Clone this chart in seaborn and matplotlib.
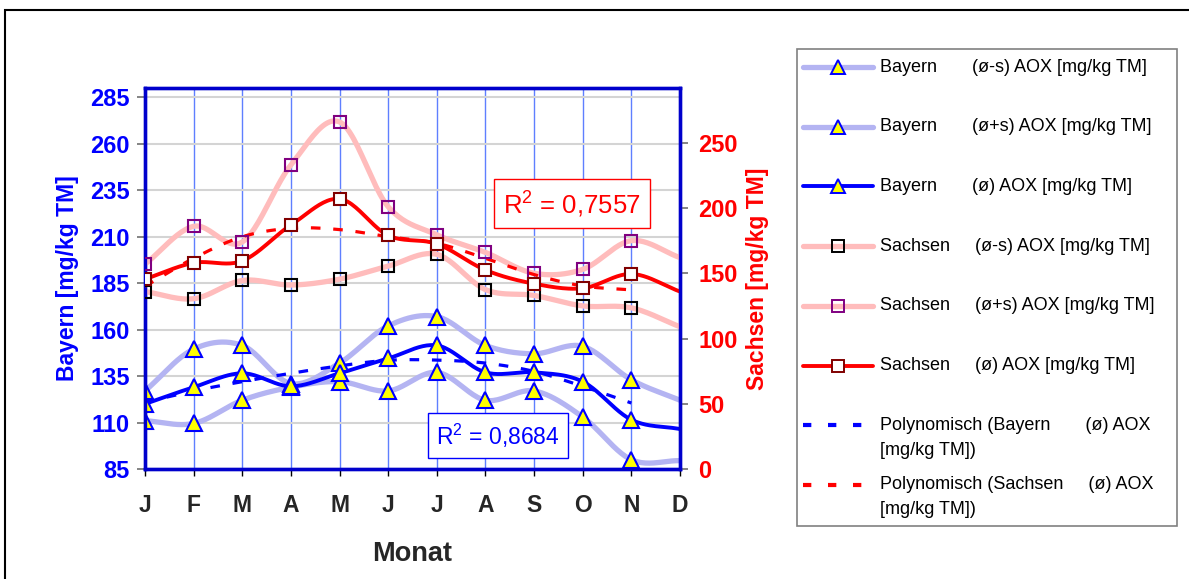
import numpy as np
import pandas as pd
import matplotlib
matplotlib.use("Agg")
import matplotlib.pyplot as plt
from matplotlib.lines import Line2D
from matplotlib.patches import Rectangle
import seaborn as sns

months = ["J", "F", "M", "A", "M", "J", "J", "A", "S", "O", "N", "D"]

bayern_mean = [120, 129, 136.5, 129.5, 136.5, 144.5, 151.5, 137, 137, 132, 111.5, 106.5]
bayern_upper = [127, 149.5, 151.5, 131, 142, 162, 167, 151.5, 147, 151, 133, 122]
bayern_lower = [111, 109.5, 122, 129, 132, 127, 137, 122, 127, 113, 90, 89.5]
bayern_trend = [121, 127, 132, 136.5, 140.5, 143.5, 143.6, 142, 137.5, 129.5, 120.5]

sachsen_mean = [145.5, 158, 159.5, 187, 207, 179, 172.5, 152.5, 142, 138.5, 149.5, 136]
sachsen_upper = [157, 186, 174, 233, 266, 201, 179.5, 166, 150, 153, 175, 162]
sachsen_lower = [136, 130.5, 144.5, 141, 145.5, 155.5, 164.5, 137.5, 133, 125, 123.5, 109]
sachsen_trend = [140, 161.5, 178, 184.5, 183.5, 178, 173, 161.5, 149, 140.3, 137.3]

r2_bayern = "0,8684"
r2_sachsen = "0,7557"

labels = [
    "Bayern       (ø-s) AOX [mg/kg TM]",
    "Bayern       (ø+s) AOX [mg/kg TM]",
    "Bayern       (ø) AOX [mg/kg TM]",
    "Sachsen     (ø-s) AOX [mg/kg TM]",
    "Sachsen     (ø+s) AOX [mg/kg TM]",
    "Sachsen     (ø) AOX [mg/kg TM]",
    "Polynomisch (Bayern       (ø) AOX\n[mg/kg TM])",
    "Polynomisch (Sachsen     (ø) AOX\n[mg/kg TM])",
]

LIGHT_BLUE = "#b4b4f2"
LIGHT_RED = "#ffbcbc"
BLUE = "#0000ff"
RED = "#ff0000"


def smooth(y, n=24):
    # catmull-rom curve through the points, like excel's smoothed lines
    y = np.asarray(y, dtype=float)
    x = np.arange(len(y), dtype=float)
    px = np.concatenate([[2 * x[0] - x[1]], x, [2 * x[-1] - x[-2]]])
    py = np.concatenate([[2 * y[0] - y[1]], y, [2 * y[-1] - y[-2]]])
    xs, ys = [], []
    t = np.linspace(0, 1, n, endpoint=False)
    for i in range(1, len(px) - 2):
        for p, out in ((px, xs), (py, ys)):
            p0, p1, p2, p3 = p[i - 1], p[i], p[i + 1], p[i + 2]
            out.append(0.5 * (2 * p1 + (-p0 + p2) * t
                              + (2 * p0 - 5 * p1 + 4 * p2 - p3) * t ** 2
                              + (-p0 + 3 * p1 - 3 * p2 + p3) * t ** 3))
    xs.append([x[-1]])
    ys.append([y[-1]])
    return pd.DataFrame({"x": np.concatenate(xs), "y": np.concatenate(ys)})


sns.set_theme(style="white")
plt.rcParams["font.family"] = ["Liberation Sans", "DejaVu Sans"]
plt.rcParams["mathtext.fontset"] = "custom"
plt.rcParams["mathtext.rm"] = "Liberation Sans"

W, H = 1189, 579
fig = plt.figure(figsize=(W / 100, H / 100), dpi=100)
ax = fig.add_axes([145 / W, 1 - 469 / H, 535 / W, 381 / H])
ax2 = ax.twinx()

x = np.arange(len(months))

series = [
    (ax, bayern_lower, LIGHT_BLUE, 3.8, dict(marker="^", mfc="#ffff00", mec="#0000ff")),
    (ax, bayern_upper, LIGHT_BLUE, 3.8, dict(marker="^", mfc="#ffff00", mec="#0000ff")),
    (ax, bayern_mean, BLUE, 2.8, dict(marker="^", mfc="#ffff00", mec="#0000ff")),
    (ax2, sachsen_lower, LIGHT_RED, 3.8, dict(marker="s", mfc="none", mec="#000000")),
    (ax2, sachsen_upper, LIGHT_RED, 3.8, dict(marker="s", mfc="none", mec="#800080")),
    (ax2, sachsen_mean, RED, 2.8, dict(marker="s", mfc="#ffffff", mec="#800000")),
]

handles = []
for a, vals, col, lw, mk in series:
    sm = smooth(vals)
    sns.lineplot(data=sm, x="x", y="y", ax=a, color=col, linewidth=lw,
                 estimator=None, sort=False, legend=False)
    ms = 11 if mk["marker"] == "^" else 8.8
    a.plot(x[:-1], vals[:-1], linestyle="none", markersize=ms, markeredgewidth=1.5, zorder=5, **mk)
    handles.append(Line2D([], [], color=col, linewidth=lw, markersize=ms * 0.9,
                          markeredgewidth=1.4, **mk))

for a, vals, col in ((ax, bayern_trend, BLUE), (ax2, sachsen_trend, RED)):
    sm = smooth(vals)
    sns.lineplot(data=sm, x="x", y="y", ax=a, color=col, linewidth=2.3,
                 estimator=None, sort=False, legend=False, zorder=4)
    a.lines[-1].set_dashes((3, 4))
    handles.append(Line2D([], [], color=col, linewidth=3, dashes=(2, 4)))

# axes styling
ax.set_xlim(0, 11)
ax.set_ylim(85, 290)
ax.set_yticks(np.arange(85, 286, 25))
ax2.set_ylim(0, 292)
ax2.set_yticks(np.arange(0, 251, 50))
ax.set_xticks(x)
ax.set_xticklabels(months)

ax.grid(axis="y", color="#d4d4d4", linewidth=1.5)
ax.grid(axis="x", color="#5f7fff", linewidth=1)
ax.set_axisbelow(True)
ax2.grid(False)

for a in (ax, ax2):
    for sp in a.spines.values():
        sp.set_color("#0000cc")
        sp.set_linewidth(2.4)

ax.tick_params(axis="y", left=True, length=6, width=1.2, color="#707070", pad=5,
               labelsize=17, labelcolor=BLUE)
ax.tick_params(axis="x", bottom=True, length=5, width=1, color="#000000", pad=13,
               labelsize=16.5)
ax2.tick_params(axis="y", right=True, length=6, width=1.2, color="#707070", pad=7,
                labelsize=17, labelcolor=RED)
for lab in ax.get_xticklabels() + ax.get_yticklabels() + ax2.get_yticklabels():
    lab.set_fontweight("bold")

ax.set_xlabel("Monat", fontsize=19.5, fontweight="bold", labelpad=17)
ax.set_ylabel("Bayern [mg/kg TM]", fontsize=16.5, fontweight="bold", color=BLUE, labelpad=8)
ax2.set_ylabel("Sachsen [mg/kg TM]", fontsize=16.5, fontweight="bold", color=RED, labelpad=6)

ax2.text(0.798, 0.696, "R$^2$ = " + r2_sachsen, transform=ax.transAxes, color=RED,
         fontsize=18.5, ha="center", va="center",
         bbox=dict(boxstyle="square,pad=0.35", fc="white", ec=RED, lw=1))
ax2.text(0.66, 0.088, "R$^2$ = " + r2_bayern, transform=ax.transAxes, color=BLUE,
         fontsize=16.5, ha="center", va="center",
         bbox=dict(boxstyle="square,pad=0.35", fc="white", ec=BLUE, lw=1))

# legend drawn by hand, excel style spacing
fig.patches.append(Rectangle((797 / W, 1 - 526 / H), 380 / W, 477 / H, transform=fig.transFigure,
                             fill=False, ec="#808080", lw=1.2))
for i, (h, lab) in enumerate(zip(handles, labels)):
    yc = 67 + i * 59.7
    ln = Line2D([803 / W, 873 / W], [1 - yc / H] * 2, transform=fig.transFigure,
                color=h.get_color(), linewidth=h.get_linewidth())
    if i >= 6:
        ln.set_dashes((2, 4))
    fig.add_artist(ln)
    if h.get_marker() not in (None, "None", ""):
        fig.add_artist(Line2D([838 / W], [1 - yc / H], transform=fig.transFigure,
                              linestyle="none", marker=h.get_marker(), markersize=h.get_markersize(),
                              mfc=h.get_markerfacecolor(), mec=h.get_markeredgecolor(),
                              markeredgewidth=1.4))
    for j, part in enumerate(lab.split("\n")):
        fig.text(880 / W, 1 - (yc + j * 25) / H, part, fontsize=13, color="black",
                 ha="left", va="center")

# outer frame
fig.patches.append(Rectangle((5 / W, -0.05), 1.2, 1.05 - 10 / H, transform=fig.transFigure,
                             fill=False, ec="black", lw=1.5))

fig.savefig("out.png", dpi=100)
plt.close(fig)
